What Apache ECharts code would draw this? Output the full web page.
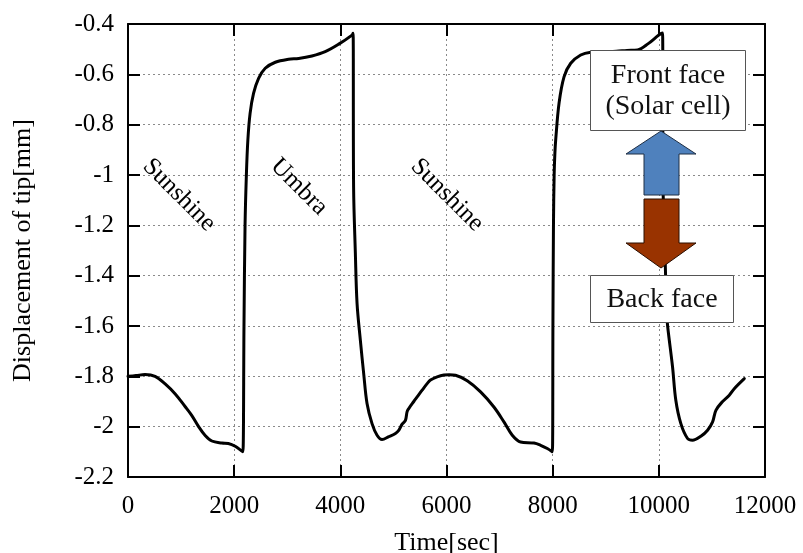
<!DOCTYPE html>
<html>
<head>
<meta charset="utf-8">
<script src="https://cdn.jsdelivr.net/npm/echarts@6/dist/echarts.min.js"></script>
<style>
  html, body { margin: 0; padding: 0; background: #fff; }
  #chart { width: 803px; height: 553px; }
</style>
</head>
<body>
<div id="chart"></div>
<script>
// Tip displacement of the panel over two orbits (time in seconds, displacement in mm)
var timeSec = [
  0, 150, 320, 510, 700, 890, 1075, 1200, 1330, 1450, 1580, 1770, 1890, 2020, 2145, 2165,
  2185, 2205, 2230, 2258, 2300, 2365, 2460, 2585, 2775, 3025, 3215, 3465, 3715, 3970, 4220, 4240,
  4250, 4283, 4315, 4377, 4440, 4503, 4597, 4692, 4786, 4912, 5038, 5100, 5164, 5226, 5258, 5289,
  5384, 5447, 5541, 5635, 5698, 5824, 5950, 6050, 6170, 6390, 6642, 6893, 7082, 7239, 7396, 7648,
  7774, 7899, 7994,
  8005, 8015, 8028, 8042, 8057, 8120, 8214, 8340, 8528, 8717, 8950, 9200, 9400, 9598, 9800, 10000, 10070,
  10080, 10115, 10150, 10164, 10258, 10320, 10415, 10541, 10635, 10792, 10918, 11013, 11075, 11201, 11327,
  11421, 11610
];
var displacementMm = [
  -1.800, -1.797, -1.793, -1.800, -1.830, -1.870, -1.920, -1.955, -2.000, -2.034, -2.057, -2.065, -2.067, -2.078, -2.097, -2.100,
  -1.600, -1.200, -1.000, -0.861, -0.755, -0.676, -0.616, -0.576, -0.552, -0.540, -0.537, -0.527, -0.510, -0.480, -0.444, -0.437,
  -1.050, -1.310, -1.510, -1.656, -1.789, -1.908, -1.988, -2.034, -2.051, -2.040, -2.027, -2.015, -1.990, -1.975, -1.940, -1.928,
  -1.900, -1.882, -1.855, -1.829, -1.815, -1.802, -1.795, -1.794, -1.796, -1.818, -1.862, -1.922, -1.981, -2.034, -2.061, -2.065,
  -2.074, -2.087, -2.100,
  -1.600, -1.200, -1.000, -0.913, -0.860, -0.715, -0.610, -0.556, -0.523, -0.512, -0.510, -0.508, -0.505, -0.503, -0.478, -0.444, -0.436,
  -1.050, -1.310, -1.550, -1.597, -1.762, -1.895, -1.988, -2.047, -2.054, -2.038, -2.014, -1.981, -1.935, -1.900, -1.875,
  -1.849, -1.809
];

// Axis ranges and tick steps
var xRange = [0, 12000];
var xStep = 2000;
var yRange = [-2.2, -0.4];
var yStep = 0.2;

// Phase annotations inside the plot
var phaseLabels = ['Sunshine', 'Umbra', 'Sunshine'];
var faceLabels = ['Front face\n(Solar cell)', 'Back face'];

var seriesData = timeSec.map(function (t, i) { return [t, displacementMm[i]]; });

var serif = '"Liberation Serif", "Times New Roman", serif';
var chart = echarts.init(document.getElementById('chart'), null, { renderer: 'canvas' });

function xFmt(v) { return String(Math.round(v)); }
function yFmt(v) { return String(Math.round(v * 10) / 10); }

var gridLine = { show: true, lineStyle: { color: '#8a8a8a', width: 1, type: [2, 3] } };
var axisLine = { show: true, onZero: false, lineStyle: { color: '#000', width: 2 } };
var tick = { show: true, inside: true, length: 12, lineStyle: { color: '#000', width: 2 } };

chart.setOption({
  animation: false,
  backgroundColor: '#fff',
  grid: { left: 128, right: 38, top: 24, bottom: 76, containLabel: false, outerBoundsMode: 'none' },
  xAxis: [{
    type: 'value', min: xRange[0], max: xRange[1], interval: xStep, position: 'bottom',
    name: 'Time[sec]', nameLocation: 'middle', nameGap: 53,
    nameTextStyle: { fontFamily: serif, fontSize: 26, color: '#000' },
    axisLine: axisLine, axisTick: tick, splitLine: gridLine,
    axisLabel: { fontFamily: serif, fontSize: 25, color: '#000', margin: 17, formatter: xFmt }
  }, {
    type: 'value', min: xRange[0], max: xRange[1], interval: xStep, position: 'top',
    axisLine: axisLine, axisTick: tick, splitLine: { show: false }, axisLabel: { show: false }
  }],
  yAxis: [{
    type: 'value', min: yRange[0], max: yRange[1], interval: yStep, position: 'left',
    name: 'Displacement of tip[mm]', nameLocation: 'middle', nameGap: 92, nameRotate: 90,
    nameTextStyle: { fontFamily: serif, fontSize: 26, color: '#000' },
    axisLine: axisLine, axisTick: tick, splitLine: gridLine,
    axisLabel: { fontFamily: serif, fontSize: 25, color: '#000', margin: 14, formatter: yFmt }
  }, {
    type: 'value', min: yRange[0], max: yRange[1], interval: yStep, position: 'right',
    axisLine: axisLine, axisTick: tick, splitLine: { show: false }, axisLabel: { show: false }
  }],
  series: [{
    type: 'line', data: seriesData, xAxisIndex: 0, yAxisIndex: 0,
    showSymbol: false, smooth: 0.35,
    lineStyle: { color: '#000', width: 3, join: 'round', cap: 'round' },
    z: 3
  }],
  graphic: [
    { type: 'text', x: 179, y: 195, rotation: -Math.PI / 4, z: 10,
      style: { text: phaseLabels[0], font: '25px ' + serif, fill: '#000', align: 'center', verticalAlign: 'middle' } },
    { type: 'text', x: 299, y: 187, rotation: -Math.PI / 4, z: 10,
      style: { text: phaseLabels[1], font: '25px ' + serif, fill: '#000', align: 'center', verticalAlign: 'middle' } },
    { type: 'text', x: 447, y: 195, rotation: -Math.PI / 4, z: 10,
      style: { text: phaseLabels[2], font: '25px ' + serif, fill: '#000', align: 'center', verticalAlign: 'middle' } },

    // Label boxes cover the curve beneath them
    { type: 'rect', z: 20, shape: { x: 590.5, y: 50.5, width: 155, height: 80 },
      style: { fill: '#fff', stroke: '#555', lineWidth: 1 } },
    { type: 'text', z: 21, x: 668, y: 91,
      style: { text: faceLabels[0], font: '28px ' + serif, fill: '#111', align: 'center', verticalAlign: 'middle', lineHeight: 31 } },
    { type: 'rect', z: 20, shape: { x: 590.5, y: 275.5, width: 143, height: 47 },
      style: { fill: '#fff', stroke: '#555', lineWidth: 1 } },
    { type: 'text', z: 21, x: 662, y: 300,
      style: { text: faceLabels[1], font: '28px ' + serif, fill: '#111', align: 'center', verticalAlign: 'middle' } },

    // Up arrow (front face) and down arrow (back face)
    { type: 'polygon', z: 20,
      shape: { points: [[661, 131], [696, 154], [679, 154], [679, 195], [644, 195], [644, 154], [626, 154]] },
      style: { fill: '#4f81bd', stroke: '#1f2f45', lineWidth: 1 } },
    { type: 'polygon', z: 20,
      shape: { points: [[644, 199], [679, 199], [679, 243], [696, 243], [661, 268], [626, 243], [644, 243]] },
      style: { fill: '#993300', stroke: '#2a0e00', lineWidth: 1 } }
  ]
});
</script>
</body>
</html>
